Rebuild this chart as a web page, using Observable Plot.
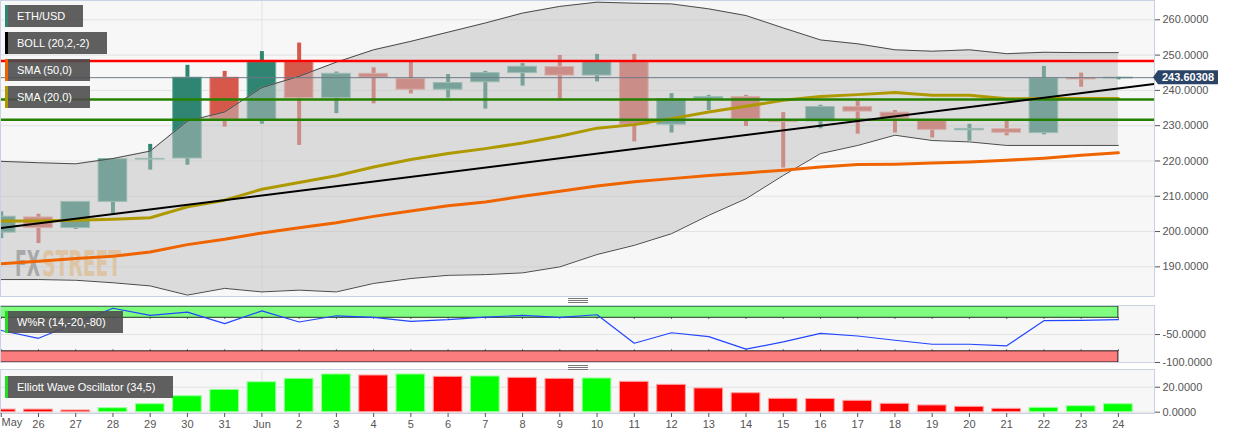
<!DOCTYPE html>
<html><head><meta charset="utf-8">
<script src="https://cdn.jsdelivr.net/npm/d3@7"></script>
<script src="https://cdn.jsdelivr.net/npm/@observablehq/plot@0.6"></script>
<style>
html,body{margin:0;padding:0;background:#fff;}
#wrap{position:relative;width:1244px;height:438px;overflow:hidden;font-family:"Liberation Sans",Arial,sans-serif;}
.panel{position:absolute;left:0;}
.panel svg{overflow:visible;}
.leg{position:absolute;left:5px;height:22px;line-height:22px;background:rgba(78,78,78,0.9);color:#fff;font-size:11px;padding-left:12px;box-sizing:border-box;white-space:nowrap;}
.leg span{position:absolute;left:0;top:0;width:2.5px;height:22px;}
.handle{position:absolute;left:568px;width:20px;height:5px;border-top:1px solid #777;border-bottom:1px solid #777;box-sizing:border-box;}
.handle::after{content:"";position:absolute;left:0;right:0;top:1px;border-top:1px solid #777;}
</style></head>
<body>
<div id="wrap">
  <div id="main" class="panel" style="top:0"></div>
  <div id="wpr" class="panel" style="top:302px"></div>
  <div id="ewo" class="panel" style="top:366px"></div>
  <div class="leg" style="top:5px;width:78px"><span style="background:#2f8572"></span>ETH/USD</div>
  <div class="leg" style="top:32px;width:102px"><span style="background:#000"></span>BOLL (20,2,-2)</div>
  <div class="leg" style="top:59px;width:85px"><span style="background:#f06400"></span>SMA (50,0)</div>
  <div class="leg" style="top:86px;width:85px"><span style="background:#ae9a00"></span>SMA (20,0)</div>
  <div class="leg" style="top:311px;width:118px"><span style="background:#22dd22"></span>W%R (14,-20,-80)</div>
  <div class="leg" style="top:376px;width:168px"><span style="background:#22dd22"></span>Elliott Wave Oscillator (34,5)</div>
  <div class="handle" style="top:298px"></div>
  <div class="handle" style="top:365px"></div>
</div>
<script>
// ---------- data ----------
const dayLabels = ["May","26","27","28","29","30","31","Jun","2","3","4","5","6","7","8","9","10","11","12","13","14","15","16","17","18","19","20","21","22","23","24"];
const open  = [199.7,204.0,201.0,208.4,220.4,220.7,243.6,231.7,248.0,237.8,244.7,243.2,240.2,242.3,244.9,246.6,244.2,248.0,230.3,237.6,238.1,231.2,231.2,235.3,233.7,231.3,228.7,229.0,227.9,243.5,243.4];
const high  = [205.6,204.9,208.4,220.5,224.7,247.1,245.4,251.0,253.4,245.2,246.4,247.9,244.5,245.4,247.6,249.9,250.2,250.2,239.1,238.6,238.6,233.7,235.8,236.9,234.3,231.3,230.4,231.3,246.8,244.9,243.7];
const low   = [198.0,196.6,200.6,205.1,217.4,218.8,229.6,230.4,224.4,233.4,236.2,239.0,237.8,234.7,241.2,237.5,242.4,225.4,227.9,234.3,229.8,218.0,229.1,227.6,227.9,226.5,225.6,227.1,227.4,240.9,243.0];
const close = [204.2,201.0,208.4,220.5,220.6,243.6,231.7,248.0,237.8,244.7,243.6,240.2,242.1,244.9,246.7,244.2,248.0,230.3,237.5,238.1,231.9,231.0,235.3,234.0,232.0,228.8,229.1,228.0,243.4,243.1,243.6];
const bollUpper = [219.9,219.5,219.2,220.7,222.8,231.3,233.9,240.8,244.0,248.0,251.5,253.9,256.5,259.1,261.9,263.8,265.0,264.7,264.5,263.1,261.2,257.7,254.3,253.2,251.5,251.1,251.5,250.4,250.8,250.7,250.7];
const bollLower = [186.4,186.4,186.2,185.5,184.6,182.0,183.9,182.9,183.4,182.9,185.3,186.7,187.6,187.8,188.3,190.0,193.5,196.1,199.4,204.6,209.3,215.9,222.1,224.4,227.3,225.8,225.4,224.4,224.4,224.4,224.4];
const sma20 = [203.0,203.0,203.2,203.5,203.9,207.0,208.9,212.0,213.9,215.8,218.3,220.4,222.1,223.5,225.1,227.0,229.3,230.3,232.0,233.9,235.5,237.2,238.3,238.8,239.4,238.6,238.6,237.6,237.7,237.7,237.7];
const sma50 = [190.9,191.6,192.4,193.0,194.2,196.3,197.8,199.6,201.1,202.5,204.3,205.8,207.3,208.4,210.0,211.4,212.9,214.1,215.0,215.9,216.6,217.4,218.3,219.0,219.1,219.4,219.7,220.2,220.8,221.6,222.3];
const trendDays = [0, 31];
const trendValues = [201.0, 241.9];
const resistance = [248.3];
const supports = [237.4, 231.7];
const lastPrice = 243.60308;
const priceTicks = [190,200,210,220,230,240,250,260];
const wpr = [-42.7,-56.7,-29.8,-2.9,-15.8,-9.9,-30.4,-7.6,-27.5,-16.4,-19.3,-26.3,-23.4,-18.7,-15.8,-19.3,-14.6,-65.5,-46.8,-53.8,-76.0,-63.2,-47.9,-52.6,-60.2,-67.3,-67.3,-70.2,-25.1,-24.5,-23.4];
const wprLevels = [-20, -80];
const wprTicks = [-50, -100];
const ewo = [2.1,2.1,1.4,3.2,6.4,12.8,17.9,24.0,26.7,30.2,29.4,30.2,28.3,28.6,27.5,26.7,27.0,24.3,21.9,19.0,15.2,10.7,10.6,9.1,6.7,5.4,4.3,2.7,3.5,4.8,6.4];
const ewoUp = [0,0,0,1,1,1,1,1,1,1,0,1,0,1,0,0,1,0,0,0,0,0,0,0,0,0,0,0,1,1,1];
const ewoTicks = [0, 20];
const watermark = ["FX", "STREET"];

// ---------- layout ----------
const W = 1244, MR = 90;
const xDomain = [-0.02, 30.97];
const days = d3.range(dayLabels.length);
const last = days[days.length - 1];
const junIndex = dayLabels.indexOf("Jun");
const HW = 0.385;
const UP = "#2f8572", DOWN = "#d6584a";
const font = "Liberation Sans, Arial, sans-serif";
const baseStyle = {background: "transparent", fontFamily: font, fontSize: "11px", color: "#555", overflow: "visible"};
const candles = days.map(i => ({i, o: open[i], h: high[i], l: low[i], c: close[i], up: close[i] >= open[i]}));
const frameStroke = "#c9d1e2";
const wmFill = {FX: "#8e8e8e", STREET: "rgb(249,200,136)"};
const wmBox = {FX: [15, 25], STREET: [42, 79]};

const main = Plot.plot({
  width: W, height: 297,
  marginLeft: 0, marginRight: MR, marginTop: 0, marginBottom: 1,
  x: {domain: xDomain, axis: null},
  y: {domain: [181.6, 265.47], axis: null},
  style: baseStyle,
  marks: [
    Plot.frame({fill: "#f7f7f7"}),
    Plot.gridY(priceTicks, {stroke: "#e2e2e2", strokeOpacity: 1}),
    Plot.ruleX([junIndex], {stroke: "#e2e2e2"}),
    Plot.text(watermark, {frameAnchor: "bottom-left", dy: -20, lineAnchor: "bottom", textAnchor: "start", fontSize: 20, fontWeight: "bold", fontFamily: "DejaVu Sans Condensed", fill: d => wmFill[d]}),
    Plot.ruleX(candles, {filter: d => d.up, x: "i", y1: "l", y2: "h", stroke: UP, strokeWidth: 4}),
    Plot.ruleX(candles, {filter: d => !d.up, x: "i", y1: "l", y2: "h", stroke: DOWN, strokeWidth: 4}),
    Plot.rect(candles, {filter: d => d.up, x1: d => d.i - HW, x2: d => d.i + HW, y1: "o", y2: "c", fill: UP, stroke: "#78b6a6", strokeWidth: 1}),
    Plot.rect(candles, {filter: d => !d.up, x1: d => d.i - HW, x2: d => d.i + HW, y1: "o", y2: "c", fill: DOWN, stroke: "#ec9a90", strokeWidth: 1}),
    Plot.areaY(days, {x: d => d, y1: i => bollLower[i], y2: i => bollUpper[i], fill: "rgb(193,193,193)", fillOpacity: 0.515}),
    Plot.lineY(days, {x: d => d, y: i => bollUpper[i], stroke: "#4a4a4a", strokeWidth: 1}),
    Plot.lineY(days, {x: d => d, y: i => bollLower[i], stroke: "#4a4a4a", strokeWidth: 1}),
    Plot.lineY(days, {x: d => d, y: i => sma50[i], stroke: "#f06400", strokeWidth: 3}),
    Plot.lineY(days, {x: d => d, y: i => sma20[i], stroke: "#ae9a00", strokeWidth: 3}),
    Plot.ruleY(supports, {stroke: "#268000", strokeWidth: 2.5}),
    Plot.ruleY(resistance, {stroke: "#ff0000", strokeWidth: 2.5}),
    Plot.ruleY([lastPrice], {stroke: "#6d7888", strokeWidth: 1}),
    Plot.line(trendDays.map((d, k) => ({d, v: trendValues[k]})), {x: "d", y: "v", stroke: "#000", strokeWidth: 2, clip: true}),
    Plot.frame({stroke: frameStroke}),
    Plot.axisY(priceTicks, {anchor: "right", label: null, tickSize: 5, tickPadding: 3, tickFormat: d => d.toFixed(4), color: "#555", fontSize: 11})
  ]
});
document.getElementById("main").append(main);
// watermark: place each word side by side, stretched tall (condensed look)
{
  const baseY = main.scale("y").range[0] - 20;
  d3.select(main).selectAll("text").filter(function() { return this.textContent in wmBox; }).each(function() {
    const word = this.textContent, [x, w] = wmBox[word];
    const t = d3.select(this);
    d3.select(this.parentNode).attr("transform", null);
    t.attr("x", null).attr("y", null).attr("dy", null)
     .attr("transform", `translate(${x},${baseY}) scale(1,1.8)`)
     .attr("textLength", w).attr("lengthAdjust", "spacingAndGlyphs");
  });
}
// current price label
{
  const yp = main.scale("y").apply(lastPrice);
  const x0 = W - MR;
  const g = d3.select(main).append("g");
  g.append("path").attr("d", `M${x0-1},${yp} L${x0+4},${yp-7} L${x0+64},${yp-7} L${x0+64},${yp+7} L${x0+4},${yp+7} Z`).attr("fill", "#2b4466");
  g.append("text").attr("x", x0 + 34).attr("y", yp).attr("dy", "0.35em").attr("text-anchor", "middle")
    .attr("fill", "#fff").attr("font-weight", "bold").attr("font-size", 11).attr("font-family", font).text(lastPrice.toFixed(5));
}

const wprChart = Plot.plot({
  width: W, height: 64,
  marginLeft: 0, marginRight: MR, marginTop: 3, marginBottom: 4,
  x: {domain: xDomain, axis: null},
  y: {domain: [-100, 2], axis: null},
  style: baseStyle,
  marks: [
    Plot.frame({fill: "#f7f7f7"}),
    Plot.gridY(wprTicks, {stroke: "#e2e2e2", strokeOpacity: 1}),
    Plot.ruleX([junIndex], {stroke: "#e2e2e2"}),
    Plot.rect([{a: wprLevels[0], b: 0}], {x1: xDomain[0], x2: last, y1: "a", y2: "b", fill: "#80fc80", stroke: "#1d3a1d", strokeWidth: 1}),
    Plot.rect([{a: -100, b: wprLevels[1]}], {x1: xDomain[0], x2: last, y1: "a", y2: "b", fill: "#fb7d7d", stroke: "#2a1a1a", strokeWidth: 1}),
    Plot.ruleX(days, {x: d => d, y1: wprLevels[0], y2: wprLevels[0] - 2.5, stroke: "#333", strokeWidth: 1}),
    Plot.ruleX(days, {x: d => d, y1: wprLevels[1], y2: wprLevels[1] + 2.5, stroke: "#333", strokeWidth: 1}),
    Plot.lineY(days, {x: d => d, y: i => wpr[i], stroke: "#2346ff", strokeWidth: 1.2}),
    Plot.frame({stroke: frameStroke}),
    Plot.axisY(wprTicks, {anchor: "right", label: null, tickSize: 5, tickPadding: 3, tickFormat: d => d.toFixed(4), color: "#555", fontSize: 11})
  ]
});
document.getElementById("wpr").append(wprChart);

const ewoData = days.map(i => ({i, v: ewo[i], up: ewoUp[i] === 1}));
const ewoChart = Plot.plot({
  width: W, height: 72,
  marginLeft: 0, marginRight: MR, marginTop: 3, marginBottom: 25,
  x: {domain: xDomain, axis: null},
  y: {domain: [-1.04, 34.2], axis: null},
  style: baseStyle,
  marks: [
    Plot.frame({fill: "#f7f7f7"}),
    Plot.gridY(ewoTicks, {stroke: "#e2e2e2", strokeOpacity: 1}),
    Plot.ruleX([junIndex], {stroke: "#e2e2e2"}),
    Plot.rect(ewoData, {filter: d => d.up, x1: d => d.i - HW, x2: d => d.i + HW, y1: 0, y2: "v", fill: "#00ff00", stroke: "#9cff9c", strokeWidth: 1, clip: true}),
    Plot.rect(ewoData, {filter: d => !d.up, x1: d => d.i - HW, x2: d => d.i + HW, y1: 0, y2: "v", fill: "#ff0000", stroke: "#ffa0a0", strokeWidth: 1, clip: true}),
    Plot.frame({stroke: frameStroke}),
    Plot.axisY(ewoTicks, {anchor: "right", label: null, tickSize: 5, tickPadding: 3, tickFormat: d => d.toFixed(4), color: "#555", fontSize: 11}),
    Plot.axisX(days, {anchor: "bottom", label: null, tickSize: 4, tickPadding: 3, tickFormat: i => i === 0 ? "" : dayLabels[i], color: "#555", fontSize: 11}),
    Plot.text([dayLabels[0]], {x: xDomain[0], frameAnchor: "bottom", dy: 12, dx: 1, textAnchor: "start", text: d => d, fill: "#555", fontSize: 11})
  ]
});
document.getElementById("ewo").append(ewoChart);
</script>
</body></html>
